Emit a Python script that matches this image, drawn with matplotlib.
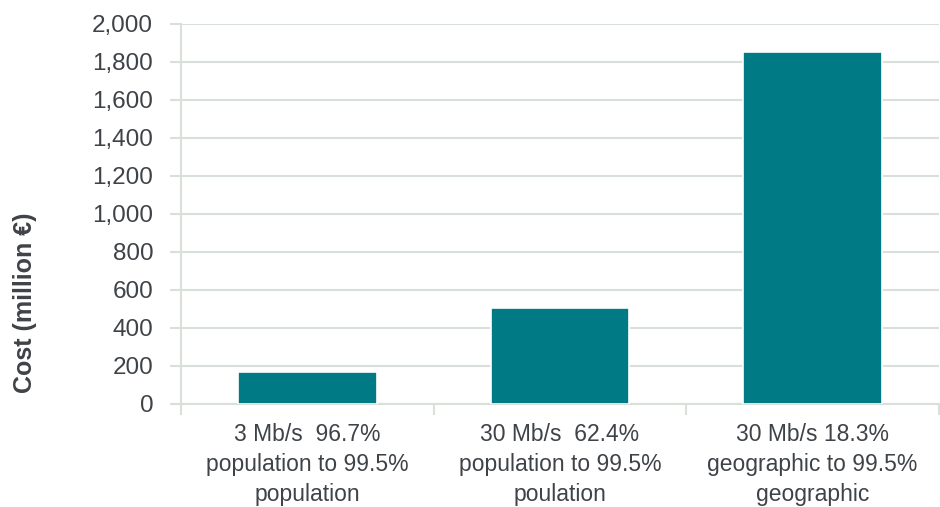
import matplotlib
matplotlib.use("Agg")
import matplotlib.pyplot as plt
import numpy as np

categories = [
    "3 Mb/s  96.7%\npopulation to 99.5%\npopulation",
    "30 Mb/s  62.4%\npopulation to 99.5%\npoulation",
    "30 Mb/s 18.3%\ngeographic to 99.5%\ngeographic",
]
cost = [167, 504, 1854]
y_ticks = [0, 200, 400, 600, 800, 1000, 1200, 1400, 1600, 1800, 2000]

BAR_COLOR = "#007A84"
GRID_COLOR = "#D9E0D9"
TEXT_COLOR = "#3F4347"

plt.rcParams["font.family"] = ["Liberation Sans", "DejaVu Sans"]

fig = plt.figure(figsize=(9.4, 5.07), dpi=100)
ax = fig.add_axes([181 / 940, 1 - 404 / 507, (939 - 181) / 940, (404 - 24) / 507])

x = np.arange(len(categories))
ax.bar(x, cost, width=0.55, color=BAR_COLOR, edgecolor="white", linewidth=1.2, zorder=3)

ax.set_xlim(-0.5, len(categories) - 0.5)
ax.set_ylim(0, 2000)
ax.set_yticks(y_ticks)
ax.set_yticklabels([f"{v:,}" for v in y_ticks])
ax.yaxis.grid(True, color=GRID_COLOR, linewidth=1.5, zorder=0)

# category labels sit between the boundary ticks
ax.set_xticks(x)
ax.set_xticklabels(categories, fontsize=16.5, color=TEXT_COLOR, linespacing=1.38)
ax.tick_params(axis="x", length=0, pad=14)
ax.set_xticks(np.arange(len(categories) + 1) - 0.5, minor=True)
ax.tick_params(axis="x", which="minor", length=8, width=1.5, color=GRID_COLOR)
ax.tick_params(axis="y", length=8, width=1.5, color=GRID_COLOR, labelsize=17.5,
               labelcolor=TEXT_COLOR, pad=12)

for side in ["top", "right"]:
    ax.spines[side].set_visible(False)
for side in ["left", "bottom"]:
    ax.spines[side].set_color(GRID_COLOR)
    ax.spines[side].set_linewidth(1.5)

fig.text(25 / 940, 1 - 303 / 507, "Cost (million €)", rotation=90, ha="center", va="center",
         fontsize=18, fontweight="bold", color=TEXT_COLOR)

fig.savefig("out.png", dpi=100)
